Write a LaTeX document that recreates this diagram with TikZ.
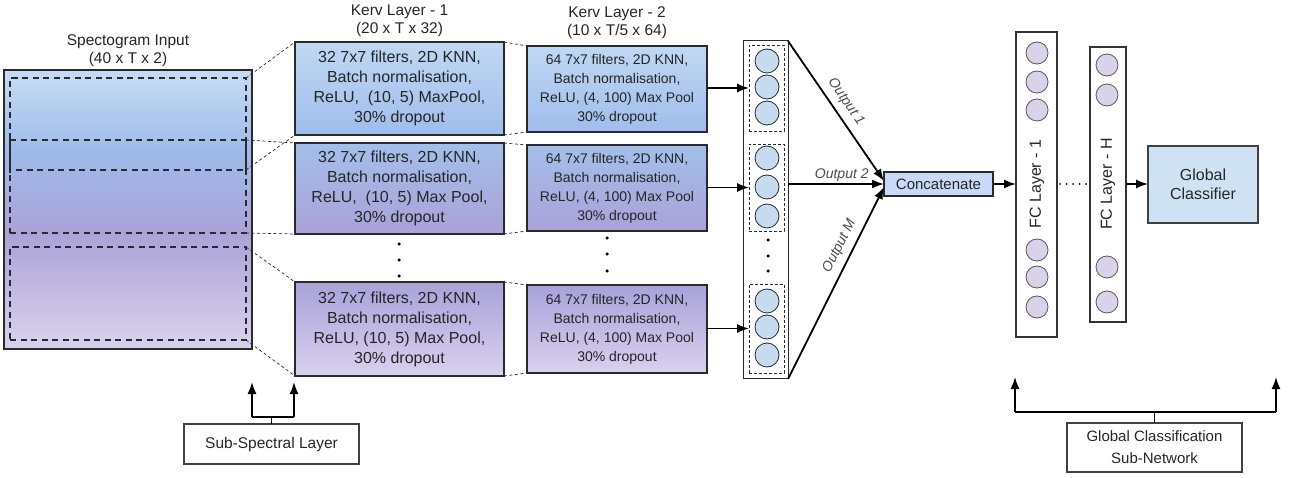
\documentclass[tikz,border=0pt]{standalone}
\usepackage{fontspec}
\setmainfont{Liberation Sans}
\usetikzlibrary{arrows.meta,calc}
\definecolor{txtc}{HTML}{262626}
\definecolor{linec}{HTML}{2A2A2A}
\definecolor{spA}{HTML}{C3DAF3}
\definecolor{spB}{HTML}{9EBBEB}
\definecolor{spC}{HTML}{ABA2D8}
\definecolor{spD}{HTML}{D6CFEC}
\definecolor{kAt}{HTML}{C0D8F3}
\definecolor{kAb}{HTML}{9FBDEC}
\definecolor{kBt}{HTML}{A3BFEA}
\definecolor{kBb}{HTML}{AAA1D8}
\definecolor{kCt}{HTML}{A9A2D9}
\definecolor{kCb}{HTML}{D9D1EF}
\definecolor{circB}{HTML}{C6DBEF}
\definecolor{circP}{HTML}{D9D2E9}
\definecolor{concatc}{HTML}{C9DAF8}
\definecolor{gcc}{HTML}{CFE2F3}
\pgfdeclareverticalshading{specshade}{100bp}{color(0bp)=(spD); color(26.6bp)=(spD); color(45.8bp)=(spC); color(60.7bp)=(spB); color(73.6bp)=(spA); color(100bp)=(spA)}
\tikzset{
  basebox/.style={draw=linec, line width=1.1pt, inner sep=0pt, outer sep=0pt, align=center, text=txtc},
  kone/.style={basebox, minimum width=209pt, font=\fontsize{16}{20}\selectfont},
  ktwo/.style={basebox, minimum width=180pt, font=\fontsize{14}{19}\selectfont},
  title/.style={align=center, text=txtc, font=\fontsize{15.5}{18}\selectfont, inner sep=0pt},
  dashbox/.style={draw=linec, line width=1.6pt, dash pattern=on 6pt off 4.5pt, inner sep=0pt, outer sep=0pt, minimum width=236pt},
  dashline/.style={draw=linec, line width=1.6pt, dash pattern=on 6pt off 4.5pt},
  solidside/.style={draw=linec, line width=1.6pt},
  thindash/.style={draw=linec, line width=0.7pt, dash pattern=on 3pt off 2.5pt},
  dotn/.style={circle, fill=black, inner sep=0pt, minimum size=3.5pt},
  grp/.style={draw=linec, line width=0.7pt, dash pattern=on 3pt off 2pt, inner sep=0pt, outer sep=0pt, minimum width=35pt},
  ocirc/.style={circle, draw=linec, line width=0.8pt, fill=circB, minimum size=24pt, inner sep=0pt},
  fcirc/.style={circle, draw=black!65, line width=0.8pt, fill=circP, minimum size=22pt, inner sep=0pt},
  arr/.style={line width=1.5pt, draw=black, -{Latex[length=12pt,width=9pt]}},
  outl/.style={line width=1.8pt, draw=black, -{Latex[length=12pt,width=9pt]}},
  lbl/.style={font=\fontsize{14}{16}\selectfont\itshape, text=black!70, inner sep=1pt},
  plainbox/.style={draw=black!75, line width=1.1pt, inner sep=0pt, outer sep=0pt, align=center, text=txtc, font=\fontsize{15.5}{22}\selectfont},
  brk/.style={line width=1.6pt, draw=black},
}
\begin{document}
\begin{tikzpicture}[x=1pt,y=-1pt]
\useasboundingbox (0,0) rectangle (1299,478);
% Spectrogram
\node (t0) [title] at (128,51) {Spectogram Input\\(40 x T x 2)};
\node (spec) [draw=linec, line width=1.1pt, shading=specshade, minimum width=248pt, minimum height=279pt, inner sep=0pt, outer sep=0pt] at (128,209.5) {};
\node (r1) [dashbox, minimum height=155pt] at (128,155.5) {};
\node (rm) [inner sep=0pt, outer sep=0pt, minimum width=236pt, minimum height=30pt] at (128,155) {};
\draw[dashline] (rm.north west) -- (rm.north east);
\draw[dashline] ([xshift=6pt]rm.south west) -- (rm.south east);
\draw[solidside] ([yshift=5pt]rm.north west) -- ([yshift=-3pt]rm.south west);
\draw[solidside] (rm.north east) -- (rm.south east);
\node (r3) [dashbox, minimum height=93pt] at (128,293.5) {};
% Kerv layer 1
\node (t1) [title] at (399.5,21) {Kerv Layer - 1\\(20 x T x 32)};
\node (k1a) [kone, minimum height=93pt, top color=kAt, bottom color=kAb] at (399.5,88.5) {32 7x7 filters, 2D KNN,\\Batch normalisation,\\ReLU,\ \ (10, 5) MaxPool,\\30\% dropout};
\node (k1b) [kone, minimum height=91pt, top color=kBt, bottom color=kBb] at (399.5,188.5) {32 7x7 filters, 2D KNN,\\Batch normalisation,\\ReLU,\ \ (10, 5) Max Pool,\\30\% dropout};
\node (k1c) [kone, minimum height=94pt, top color=kCt, bottom color=kCb] at (399.5,329) {32 7x7 filters, 2D KNN,\\Batch normalisation,\\ReLU, (10, 5) Max Pool,\\30\% dropout};
\node (d11) [dotn] at (399,244) {};
\node (d12) [dotn] at (399,260) {};
\node (d13) [dotn] at (399,276) {};
% Kerv layer 2
\node (t2) [title] at (617,23) {Kerv Layer - 2\\(10 x T/5 x 64)};
\node (k2a) [ktwo, minimum height=86pt, top color=kAt, bottom color=kAb] at (617,89) {64 7x7 filters, 2D KNN,\\Batch normalisation,\\ReLU, (4, 100) Max Pool\\30\% dropout};
\node (k2b) [ktwo, minimum height=86pt, top color=kBt, bottom color=kBb] at (617,188) {64 7x7 filters, 2D KNN,\\Batch normalisation,\\ReLU, (4, 100) Max Pool\\30\% dropout};
\node (k2c) [ktwo, minimum height=88pt, top color=kCt, bottom color=kCb] at (617,329) {64 7x7 filters, 2D KNN,\\Batch normalisation,\\ReLU, (4, 100) Max Pool\\30\% dropout};
\node (d21) [dotn] at (607,238) {};
\node (d22) [dotn] at (607,254) {};
\node (d23) [dotn] at (607,271) {};
% dashed projections
\draw[thindash] (r1.north east) -- (k1a.north west);
\draw[thindash] (rm.south east) -- (k1a.south west);
\draw[thindash] (rm.north east) -- (k1b.north west);
\draw[thindash] (r1.south east) -- (k1b.south west);
\draw[thindash] (r3.north east) -- (k1c.north west);
\draw[thindash] (r3.south east) -- (k1c.south west);
\draw[thindash] (k1a.north east) -- (k2a.north west);
\draw[thindash] (k1a.south east) -- (k2a.south west);
\draw[thindash] (k1b.north east) -- (k2b.north west);
\draw[thindash] (k1b.south east) -- (k2b.south west);
\draw[thindash] (k1c.north east) -- (k2c.north west);
\draw[thindash] (k1c.south east) -- (k2c.south west);
% output column
\node (oc) [draw=linec, line width=1pt, minimum width=45pt, minimum height=338pt, inner sep=0pt, outer sep=0pt] at (765.5,210) {};
\node (g1) [grp, minimum height=86pt] at (766.5,88) {};
\node (g2) [grp, minimum height=87pt] at (766.5,187.5) {};
\node (g3) [grp, minimum height=89pt] at (766.5,328.5) {};
\node (c11) [ocirc] at (767,61) {};
\node (c12) [ocirc] at (767,87) {};
\node (c13) [ocirc] at (767,113) {};
\node (c21) [ocirc] at (767,158) {};
\node (c22) [ocirc] at (767,187) {};
\node (c23) [ocirc] at (767,216) {};
\node (c31) [ocirc] at (767,301) {};
\node (c32) [ocirc] at (767,327) {};
\node (c33) [ocirc] at (767,355) {};
\node (d31) [dotn] at (768,240) {};
\node (d32) [dotn] at (768,256) {};
\node (d33) [dotn] at (768,271) {};
\draw[arr] (k2a.east |- g1.west) -- (g1.west);
\draw[arr] (k2b.east |- g2.west) -- (g2.west);
\draw[arr] (k2c.east |- g3.west) -- (g3.west);
% concatenate
\node (cc) [basebox, line width=1.4pt, fill=concatc, minimum width=109pt, minimum height=24pt, font=\fontsize{15}{18}\selectfont] at (938.5,184) {Concatenate};
\draw[outl] (oc.north east) -- node[lbl, sloped, above=5pt, pos=0.49] {Output 1} ([yshift=3pt]cc.west);
\draw[outl] (oc.east |- cc.west) -- node[lbl, above=1pt, pos=0.56] {Output 2} (cc.west);
\draw[outl] (oc.south east) -- node[lbl, sloped, above=5pt, pos=0.66] {Output M} ([yshift=-3pt]cc.west);
% FC layers
\node (fc1) [draw=black!80, line width=1.1pt, minimum width=41pt, minimum height=305pt, inner sep=0pt, outer sep=0pt] at (1036.5,184.5) {};
\node (fc1t) [rotate=90, text=txtc, font=\fontsize{16}{18}\selectfont] at (1037,184) {FC Layer - 1};
\node (f11) [fcirc] at (1037,53) {};
\node (f12) [fcirc] at (1037,82) {};
\node (f13) [fcirc] at (1037,110) {};
\node (f14) [fcirc] at (1037,250) {};
\node (f15) [fcirc] at (1037,277) {};
\node (f16) [fcirc] at (1037,307) {};
\node (fch) [draw=black!80, line width=1.1pt, minimum width=36pt, minimum height=275pt, inner sep=0pt, outer sep=0pt] at (1108,184.5) {};
\node (fcht) [rotate=90, text=txtc, font=\fontsize{16}{18}\selectfont] at (1108,184) {FC Layer - H};
\node (f21) [fcirc] at (1107,65) {};
\node (f22) [fcirc] at (1107,95) {};
\node (f23) [fcirc] at (1107,267) {};
\node (f24) [fcirc] at (1107,302) {};
\node (gc) [draw=black!75, line width=1.4pt, fill=gcc, minimum width=110pt, minimum height=77pt, inner sep=0pt, outer sep=0pt, align=center, text=txtc, font=\fontsize{16}{19}\selectfont] at (1203,184.5) {Global\\Classifier};
\draw[arr] (cc.east) -- (fc1.west |- cc.east);
\draw[line width=2pt, line cap=round, dash pattern=on 0pt off 6.5pt] ([xshift=3pt]fc1.east |- cc.east) -- (fch.west |- cc.east);
\draw[arr] (fch.east |- cc.east) -- (gc.west |- cc.east);
% Sub-spectral bracket
\node (ssl) [plainbox, minimum width=175pt, minimum height=40pt] at (271.5,444) {Sub-Spectral Layer};
\coordinate (sl) at (252,417);
\coordinate (sr) at (294,417);
\coordinate (slt) at (252,382);
\coordinate (srt) at (294,382);
\draw[brk] (ssl.north) -- (ssl.north |- sl);
\draw[brk] (sl) -- (sr);
\draw[arr, line width=1.6pt] (sl) -- (slt);
\draw[arr, line width=1.6pt] (sr) -- (srt);
% Global classification bracket
\node (gcs) [plainbox, minimum width=175pt, minimum height=49pt, font=\fontsize{15}{22}\selectfont] at (1154.5,447.5) {Global Classification\\Sub-Network};
\coordinate (gl) at (1015,412);
\coordinate (gr) at (1276,412);
\coordinate (glt) at (1015,377);
\coordinate (grt) at (1276,377);
\draw[brk] (gcs.north) -- (gcs.north |- gl);
\draw[brk] (gl) -- (gr);
\draw[arr, line width=1.6pt] (gl) -- (glt);
\draw[arr, line width=1.6pt] (gr) -- (grt);
\end{tikzpicture}
\end{document}
